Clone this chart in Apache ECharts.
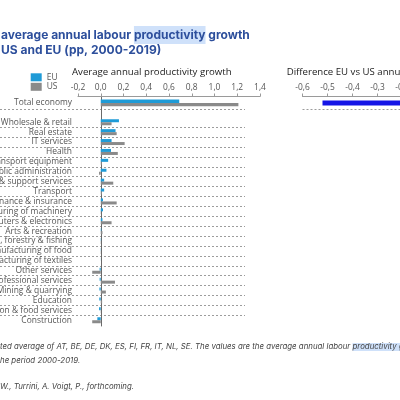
<!DOCTYPE html>
<html><head><meta charset="utf-8">
<script src="https://cdn.jsdelivr.net/npm/echarts@6/dist/echarts.min.js"></script>
<style>html,body{margin:0;padding:0;background:#fff}#c{width:400px;height:400px}</style>
</head><body><div id="c"></div>
<script>
// ---------- data ----------
const topCategories = ['Total economy'];
const euTop = [0.69];
const usTop = [1.21];
const diffTop = [-0.52];

const sectors = [
  'Wholesale & retail', 'Real estate', 'IT services', 'Health',
  'Transport equipment', 'Public administration', 'Admin & support services',
  'Transport', 'Finance & insurance', 'Manufacturing of machinery',
  'Computers & electronics', 'Arts & recreation', 'Agriculture, forestry & fishing',
  'Manufacturing of food', 'Manufacturing of textiles', 'Other services',
  'Professional services', 'Mining & quarrying', 'Education',
  'Accommodation & food services', 'Construction'
];
const euSectors = [0.16, 0.13, 0.095, 0.09, 0.065, 0.05, 0.03, 0.03, 0.02, 0.02,
  0.015, 0.005, 0.003, 0.002, 0.001, -0.01, -0.01, -0.012, -0.013, -0.015, -0.03];
const usSectors = [0.095, 0.14, 0.21, 0.15, 0.01, -0.015, 0.11, 0.01, 0.14, 0.003,
  0.095, 0.015, 0.003, 0.002, 0.0, -0.075, 0.125, 0.045, 0.012, 0.003, -0.075];

const leftAxisMin = -0.2, leftAxisMax = 1.4, leftAxisStep = 0.2;
const rightAxisMin = -0.6, rightAxisMax = 0.2, rightAxisStep = 0.1;

const titleLine1 = 'average annual labour {h|productivity} growth';
const titleLine2 = 'US and EU (pp, 2000-2019)';
const leftAxisTitle = 'Average annual productivity growth';
const rightAxisTitle = 'Difference EU vs US annual productivity growth';
const note1 = 'ted average of AT, BE, DE, DK, ES, FI, FR, IT, NL, SE. The values are the average annual labour {h|productivity growth}';
const note2 = 'he period 2000-2019.';
const note3 = 'W., Turrini, A. Voigt, P., forthcoming.';

// ---------- styling helpers ----------
const EU_COLOR = '#1f9bd7';
const US_COLOR = '#8a8a8a';
const DIFF_COLOR = '#1414e6';
const TITLE_COLOR = '#2d4f9c';
const HL = '#cfe1fa';
const mctx = document.createElement('canvas').getContext('2d');
function fit(text, family, weight, style, target) {
  mctx.font = style + ' ' + weight + ' 100px ' + family;
  return 100 * target / mctx.measureText(text).width;
}
const titleFont = 'Inter';
const titleSize = fit('average annual labour productivity growth', titleFont, 700, 'normal', 249);
const catFont = 'Open Sans';
const catSize = fit('Total economy', catFont, 400, 'normal', 58);
const axTitleSize = fit(leftAxisTitle, catFont, 400, 'normal', 160);
const tickSize = fit('-0,2', catFont, 400, 'normal', 14.5);
const noteSize = fit('ted average of AT, BE, DE, DK, ES, FI, FR, IT, NL, SE.', titleFont, 400, 'italic', 193);

const fmt = v => (Math.round(v * 10) / 10).toFixed(1).replace('.', ',').replace('-0,0', '0,0');

const L = 78, W = 182;             // left panel axis extent
const RL = 302.5, RW = 200;        // right panel axis extent
const topA = 96.5, hA = 12.8;      // total economy band
const topB = 117.3, hB = 207.9;    // sector rows
const dashStyle = {type: [2, 2], color: '#9c9c9c', width: 1};

function hiddenValueAxis(gi, min, max) {
  return {type: 'value', gridIndex: gi, min: min, max: max, show: false};
}
function sepCatAxis(gi, data, showMax) {
  return {type: 'category', gridIndex: gi, data: data, inverse: true,
    axisLine: {show: false}, axisTick: {show: false}, axisLabel: {show: false},
    splitLine: {show: true, interval: 0, showMinLine: false, showMaxLine: showMax, lineStyle: dashStyle}};
}
const tickAxisCommon = {
  type: 'value', position: 'top',
  axisLine: {show: true, lineStyle: {color: '#9a9a9a', width: 1}},
  axisTick: {show: true, length: 3, lineStyle: {color: '#9a9a9a'}},
  axisLabel: {fontFamily: catFont, fontSize: tickSize, color: '#555', margin: 5, formatter: fmt},
  splitLine: {show: false}
};
function g(o) { return Object.assign({outerBoundsMode: 'none', containLabel: false}, o); }

const option = {
  animation: false,
  backgroundColor: '#fff',
  legend: {
    data: ['EU', 'US'], orient: 'vertical', left: 25.7, top: 68.3,
    itemWidth: 11, itemHeight: 8, itemGap: 1.5, icon: 'rect',
    textStyle: {fontFamily: catFont, fontSize: catSize, color: '#555'}
  },
  grid: [
    g({left: L, top: topA, width: W, height: hA}),
    g({left: L, top: topB, width: W, height: hB}),
    g({left: RL, top: topA, width: RW, height: hA}),
    g({left: 0, top: topA, width: 245, height: hA}),
    g({left: 0, top: topB, width: 245, height: hB}),
    g({left: L, top: topA, width: W, height: 326 - topA})
  ],
  xAxis: [
    Object.assign({}, tickAxisCommon, {gridIndex: 0, min: leftAxisMin, max: leftAxisMax, interval: leftAxisStep}),
    hiddenValueAxis(1, leftAxisMin, leftAxisMax),
    Object.assign({}, tickAxisCommon, {gridIndex: 2, min: rightAxisMin, max: rightAxisMax, interval: rightAxisStep}),
    hiddenValueAxis(3, 0, 1),
    hiddenValueAxis(4, 0, 1),
    hiddenValueAxis(5, leftAxisMin, leftAxisMax)
  ],
  yAxis: [
    {type: 'category', gridIndex: 0, data: topCategories, inverse: true,
      axisLine: {show: false}, axisTick: {show: false},
      axisLabel: {interval: 0, margin: 6, fontFamily: catFont, fontSize: catSize, color: '#555'}},
    {type: 'category', gridIndex: 1, data: sectors, inverse: true,
      axisLine: {show: false}, axisTick: {show: false},
      axisLabel: {interval: 0, margin: 6, fontFamily: catFont, fontSize: catSize, color: '#555'}},
    sepCatAxis(2, topCategories, true),
    sepCatAxis(3, topCategories, true),
    sepCatAxis(4, sectors, false),
    {type: 'category', gridIndex: 5, data: [''],
      axisLine: {show: true, onZero: true, lineStyle: {color: '#6a6a6a', width: 1}},
      axisTick: {show: false}, axisLabel: {show: false}}
  ],
  series: [
    {name: 'EU', type: 'bar', xAxisIndex: 0, yAxisIndex: 0, data: euTop, barWidth: 3.4, barGap: '0%', itemStyle: {color: EU_COLOR}},
    {name: 'US', type: 'bar', xAxisIndex: 0, yAxisIndex: 0, data: usTop, barWidth: 3.4, barGap: '0%', itemStyle: {color: US_COLOR}},
    {name: 'EU', type: 'bar', xAxisIndex: 1, yAxisIndex: 1, data: euSectors, barWidth: 3, barGap: '0%', itemStyle: {color: EU_COLOR}},
    {name: 'US', type: 'bar', xAxisIndex: 1, yAxisIndex: 1, data: usSectors, barWidth: 3, barGap: '0%', itemStyle: {color: US_COLOR}},
    {name: 'Difference', type: 'bar', xAxisIndex: 2, yAxisIndex: 2, data: diffTop, barWidth: 5, itemStyle: {color: DIFF_COLOR}}
  ],
  graphic: [
    {type: 'text', left: 1, top: 26, style: {
      text: titleLine1, fontFamily: titleFont, fontWeight: 700, fontSize: titleSize, fill: TITLE_COLOR,
      rich: {h: {backgroundColor: HL, padding: [3, 0, 3, 0], fontFamily: titleFont, fontWeight: 700, fontSize: titleSize, color: TITLE_COLOR}}}},
    {type: 'text', left: 1, top: 44, style: {
      text: titleLine2, fontFamily: titleFont, fontWeight: 700, fontSize: titleSize, fill: TITLE_COLOR}},
    {type: 'text', left: 72, top: 67, style: {
      text: leftAxisTitle, fontFamily: catFont, fontSize: axTitleSize, fill: '#222'}},
    {type: 'text', left: 286.7, top: 67, style: {
      text: rightAxisTitle, fontFamily: catFont, fontSize: axTitleSize, fill: '#222'}},
    {type: 'text', left: 0, top: 343, style: {
      text: note1, fontFamily: titleFont, fontStyle: 'italic', fontSize: noteSize, fill: '#444',
      rich: {h: {backgroundColor: HL, fontFamily: titleFont, fontStyle: 'italic', fontSize: noteSize, color: '#444'}}}},
    {type: 'text', left: 0, top: 357, style: {
      text: note2, fontFamily: titleFont, fontStyle: 'italic', fontSize: noteSize, fill: '#444'}},
    {type: 'text', left: 0, top: 383, style: {
      text: note3, fontFamily: titleFont, fontStyle: 'italic', fontSize: noteSize, fill: '#444'}}
  ]
};
const chart = echarts.init(document.getElementById('c'), null, {renderer: 'canvas'});
chart.setOption(option);
</script></body></html>
